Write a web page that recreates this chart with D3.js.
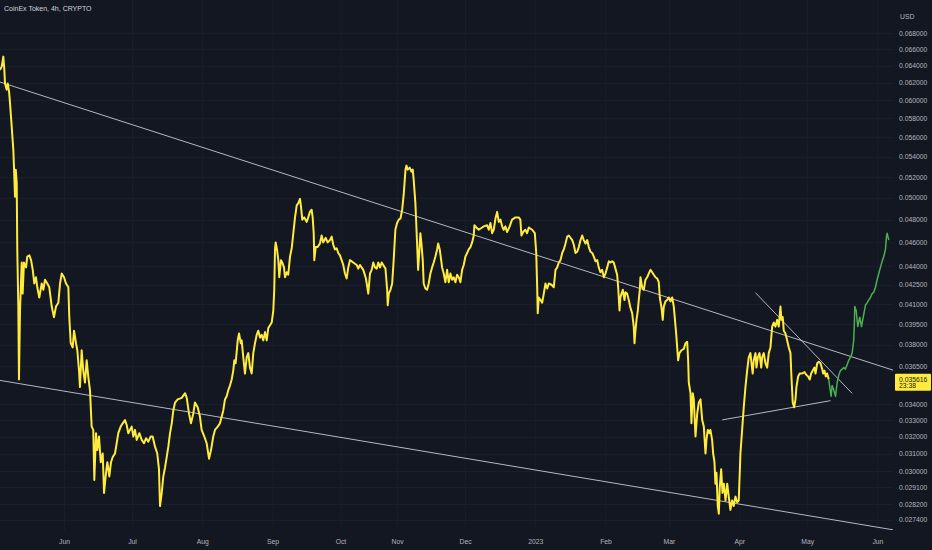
<!DOCTYPE html>
<html><head><meta charset="utf-8">
<script src="https://cdn.jsdelivr.net/npm/d3@7"></script>
<style>html,body{margin:0;padding:0;background:#131722;overflow:hidden}svg{display:block}</style>
</head><body><svg id="c" width="932" height="550"></svg>
<script>
const title = "CoinEx Token, 4h, CRYPTO";
const currency = "USD";
const countdown = "23:38";
// time window (4h bars; no bars between gapStart and gapEnd)
const xStart = "2022-05-03 18", gapStart = "2022-10-20 00", gapEnd = "2022-10-26 00", xEnd = "2023-06-07 21";
const yDomain = [0.02687, 0.07237];
const yTicks = [0.068,0.066,0.064,0.062,0.060,0.058,0.056,0.054,0.052,0.050,0.048,0.046,0.044,0.0425,0.041,0.0395,0.038,0.0365,0.034,0.033,0.032,0.031,0.030,0.0291,0.0282,0.0274];

const priceSeries = [
["2022-05-03 18",0.0635],["2022-05-04 12",0.0639],["2022-05-05 05",0.0651],["2022-05-05 16",0.0635],["2022-05-05 23",0.0619],
["2022-05-06 17",0.0612],["2022-05-07 04",0.0619],["2022-05-07 18",0.0610],["2022-05-08 04",0.0597],["2022-05-08 22",0.0571],
["2022-05-09 15",0.0547],["2022-05-09 22",0.0530],["2022-05-10 09",0.0501],["2022-05-10 17",0.0527],["2022-05-11 03",0.0514],
["2022-05-11 09",0.0454],["2022-05-11 20",0.0408],["2022-05-12 03",0.0356],["2022-05-12 14",0.0405],["2022-05-13 00",0.0426],
["2022-05-13 08",0.0443],["2022-05-13 18",0.0418],["2022-05-14 08",0.0443],["2022-05-15 06",0.0439],["2022-05-15 19",0.0448],
["2022-05-16 17",0.0449],["2022-05-17 11",0.0445],["2022-05-18 05",0.0437],["2022-05-18 21",0.0426],["2022-05-19 15",0.0431],
["2022-05-20 05",0.0423],["2022-05-21 02",0.0415],["2022-05-22 04",0.0426],["2022-05-22 21",0.0421],["2022-05-23 15",0.0429],
["2022-05-24 15",0.0426],["2022-05-25 12",0.0423],["2022-05-26 14",0.0408],["2022-05-27 14",0.0400],["2022-05-28 11",0.0408],
["2022-05-29 12",0.0411],["2022-05-30 06",0.0426],["2022-05-31 00",0.0434],["2022-06-01 00",0.0431],["2022-06-01 21",0.0426],
["2022-06-02 22",0.0423],["2022-06-03 08",0.0400],["2022-06-03 23",0.0381],["2022-06-04 20",0.0378],["2022-06-05 10",0.0390],
["2022-06-06 07",0.0381],["2022-06-06 21",0.0376],["2022-06-07 15",0.0362],["2022-06-08 01",0.0351],["2022-06-08 19",0.0376],
["2022-06-09 12",0.0362],["2022-06-10 06",0.0354],["2022-06-11 00",0.0369],["2022-06-11 17",0.0358],["2022-06-12 11",0.0349],
["2022-06-13 05",0.0326],["2022-06-13 22",0.0324],["2022-06-14 09",0.0295],["2022-06-15 03",0.0322],["2022-06-15 17",0.0312],
["2022-06-16 11",0.0320],["2022-06-17 05",0.0305],["2022-06-18 02",0.0310],["2022-06-18 16",0.0288],["2022-06-19 13",0.0299],
["2022-06-20 03",0.0305],["2022-06-21 00",0.0297],["2022-06-21 18",0.0305],["2022-06-22 12",0.0308],["2022-06-23 12",0.0310],
["2022-06-24 06",0.0316],["2022-06-24 23",0.0322],["2022-06-26 00",0.0326],["2022-06-26 22",0.0328],["2022-06-27 22",0.0330],
["2022-06-28 16",0.0327],["2022-06-29 09",0.0322],["2022-06-30 03",0.0324],["2022-06-30 21",0.0326],["2022-07-01 14",0.0320],
["2022-07-02 08",0.0324],["2022-07-03 02",0.0318],["2022-07-04 06",0.0322],["2022-07-05 07",0.0318],["2022-07-06 07",0.0316],
["2022-07-07 05",0.0319],["2022-07-08 05",0.0317],["2022-07-09 06",0.0320],["2022-07-10 03",0.0320],["2022-07-11 04",0.0314],
["2022-07-12 04",0.0310],["2022-07-12 22",0.0301],["2022-07-13 09",0.0281],["2022-07-14 03",0.0288],["2022-07-14 20",0.0297],
["2022-07-15 14",0.0302],["2022-07-16 08",0.0308],["2022-07-17 01",0.0314],["2022-07-17 19",0.0322],["2022-07-18 13",0.0328],
["2022-07-19 06",0.0336],["2022-07-20 00",0.0341],["2022-07-21 04",0.0343],["2022-07-22 23",0.0344],["2022-07-24 10",0.0347],
["2022-07-25 04",0.0344],["2022-07-26 04",0.0334],["2022-07-27 01",0.0328],["2022-07-28 01",0.0334],["2022-07-28 19",0.0341],
["2022-07-30 00",0.0338],["2022-07-31 00",0.0332],["2022-07-31 18",0.0324],["2022-08-01 22",0.0320],["2022-08-02 23",0.0316],
["2022-08-04 00",0.0307],["2022-08-04 21",0.0312],["2022-08-05 21",0.0320],["2022-08-06 15",0.0324],["2022-08-07 20",0.0326],
["2022-08-08 20",0.0328],["2022-08-09 14",0.0332],["2022-08-10 07",0.0336],["2022-08-11 01",0.0343],["2022-08-11 19",0.0345],
["2022-08-12 12",0.0349],["2022-08-13 06",0.0352],["2022-08-14 00",0.0356],["2022-08-14 17",0.0362],["2022-08-15 04",0.0369],
["2022-08-15 18",0.0367],["2022-08-16 16",0.0383],["2022-08-17 06",0.0388],["2022-08-18 00",0.0381],["2022-08-18 10",0.0383],
["2022-08-19 03",0.0371],["2022-08-19 21",0.0360],["2022-08-20 15",0.0371],["2022-08-21 08",0.0374],["2022-08-22 02",0.0364],
["2022-08-22 20",0.0360],["2022-08-23 13",0.0374],["2022-08-24 07",0.0381],["2022-08-25 01",0.0387],["2022-08-25 18",0.0390],
["2022-08-26 12",0.0385],["2022-08-27 06",0.0387],["2022-08-27 23",0.0383],["2022-08-28 17",0.0389],["2022-08-29 11",0.0383],
["2022-08-30 04",0.0392],["2022-08-30 22",0.0394],["2022-08-31 16",0.0396],["2022-09-01 09",0.0405],["2022-09-01 19",0.0421],
["2022-09-02 03",0.0454],["2022-09-02 10",0.0460],["2022-09-03 00",0.0454],["2022-09-03 14",0.0445],["2022-09-04 00",0.0431],
["2022-09-04 18",0.0445],["2022-09-05 08",0.0443],["2022-09-06 02",0.0439],["2022-09-06 13",0.0431],["2022-09-07 07",0.0435],
["2022-09-07 23",0.0433],["2022-09-08 18",0.0448],["2022-09-09 12",0.0455],["2022-09-10 05",0.0468],["2022-09-10 23",0.0482],
["2022-09-11 17",0.0493],["2022-09-12 10",0.0495],["2022-09-13 04",0.0499],["2022-09-13 14",0.0492],["2022-09-14 04",0.0480],
["2022-09-15 01",0.0482],["2022-09-16 02",0.0478],["2022-09-16 19",0.0482],["2022-09-17 13",0.0487],["2022-09-18 07",0.0489],
["2022-09-18 18",0.0482],["2022-09-19 05",0.0468],["2022-09-19 11",0.0445],["2022-09-20 02",0.0456],["2022-09-20 23",0.0456],
["2022-09-21 23",0.0459],["2022-09-22 17",0.0466],["2022-09-23 10",0.0460],["2022-09-24 12",0.0464],["2022-09-25 09",0.0460],
["2022-09-26 09",0.0462],["2022-09-27 03",0.0465],["2022-09-27 20",0.0458],["2022-09-28 14",0.0454],["2022-09-29 08",0.0455],
["2022-09-30 01",0.0451],["2022-09-30 19",0.0449],["2022-10-01 13",0.0445],["2022-10-02 06",0.0441],["2022-10-03 00",0.0434],
["2022-10-03 18",0.0430],["2022-10-04 11",0.0439],["2022-10-05 05",0.0445],["2022-10-06 16",0.0443],["2022-10-08 04",0.0441],
["2022-10-08 21",0.0438],["2022-10-09 15",0.0441],["2022-10-11 02",0.0437],["2022-10-12 06",0.0430],["2022-10-13 07",0.0418],
["2022-10-14 01",0.0434],["2022-10-14 19",0.0437],["2022-10-15 12",0.0443],["2022-10-16 06",0.0439],["2022-10-17 00",0.0438],
["2022-10-17 17",0.0443],["2022-10-18 11",0.0439],["2022-10-19 05",0.0443],["2022-10-26 21",0.0438],["2022-10-27 15",0.0421],
["2022-10-27 21",0.0409],["2022-10-28 08",0.0418],["2022-10-29 02",0.0421],["2022-10-29 20",0.0426],["2022-10-30 12",0.0445],
["2022-10-31 06",0.0471],["2022-11-01 00",0.0477],["2022-11-01 18",0.0480],["2022-11-02 12",0.0481],["2022-11-03 06",0.0489],
["2022-11-03 23",0.0504],["2022-11-04 17",0.0527],["2022-11-05 03",0.0531],["2022-11-05 17",0.0527],["2022-11-06 14",0.0529],
["2022-11-07 08",0.0525],["2022-11-07 22",0.0527],["2022-11-08 08",0.0517],["2022-11-09 02",0.0495],["2022-11-09 20",0.0459],
["2022-11-10 07",0.0437],["2022-11-10 21",0.0454],["2022-11-11 07",0.0468],["2022-11-11 18",0.0459],["2022-11-12 08",0.0445],
["2022-11-12 18",0.0426],["2022-11-13 12",0.0422],["2022-11-14 06",0.0421],["2022-11-14 23",0.0426],["2022-11-15 17",0.0434],
["2022-11-16 11",0.0439],["2022-11-17 04",0.0443],["2022-11-17 22",0.0448],["2022-11-18 16",0.0454],["2022-11-19 03",0.0459],
["2022-11-19 20",0.0454],["2022-11-20 11",0.0445],["2022-11-20 21",0.0439],["2022-11-21 14",0.0434],["2022-11-22 08",0.0427],
["2022-11-23 02",0.0437],["2022-11-23 19",0.0427],["2022-11-24 13",0.0434],["2022-11-25 07",0.0429],["2022-11-26 00",0.0431],
["2022-11-26 18",0.0427],["2022-11-27 12",0.0433],["2022-11-28 05",0.0431],["2022-11-28 23",0.0427],["2022-11-29 17",0.0437],
["2022-11-30 10",0.0441],["2022-12-01 04",0.0448],["2022-12-01 22",0.0451],["2022-12-02 15",0.0454],["2022-12-03 09",0.0456],
["2022-12-04 03",0.0460],["2022-12-04 20",0.0466],["2022-12-05 03",0.0475],["2022-12-06 00",0.0473],["2022-12-07 01",0.0471],
["2022-12-08 13",0.0473],["2022-12-09 06",0.0474],["2022-12-10 18",0.0475],["2022-12-11 11",0.0471],["2022-12-12 05",0.0477],
["2022-12-12 23",0.0468],["2022-12-13 16",0.0471],["2022-12-14 10",0.0481],["2022-12-15 04",0.0487],["2022-12-15 21",0.0478],
["2022-12-16 15",0.0480],["2022-12-17 09",0.0474],["2022-12-18 01",0.0471],["2022-12-18 19",0.0474],["2022-12-19 13",0.0469],
["2022-12-20 17",0.0474],["2022-12-21 18",0.0480],["2022-12-23 06",0.0482],["2022-12-24 16",0.0482],["2022-12-25 10",0.0480],
["2022-12-25 21",0.0466],["2022-12-26 15",0.0469],["2022-12-27 15",0.0471],["2022-12-28 09",0.0468],["2022-12-29 03",0.0473],
["2022-12-30 15",0.0471],["2022-12-31 19",0.0468],["2023-01-01 10",0.0451],["2023-01-01 20",0.0423],["2023-01-02 02",0.0403],
["2023-01-02 13",0.0415],["2023-01-03 07",0.0413],["2023-01-04 01",0.0411],["2023-01-04 18",0.0418],["2023-01-05 12",0.0426],
["2023-01-06 06",0.0422],["2023-01-06 23",0.0426],["2023-01-08 04",0.0425],["2023-01-09 04",0.0423],["2023-01-09 22",0.0437],
["2023-01-10 16",0.0439],["2023-01-11 09",0.0443],["2023-01-12 03",0.0445],["2023-01-12 21",0.0451],["2023-01-13 14",0.0454],
["2023-01-14 08",0.0459],["2023-01-15 02",0.0465],["2023-01-15 19",0.0466],["2023-01-16 13",0.0464],["2023-01-17 07",0.0462],
["2023-01-18 00",0.0458],["2023-01-18 18",0.0451],["2023-01-19 12",0.0452],["2023-01-20 05",0.0456],["2023-01-20 23",0.0462],
["2023-01-21 17",0.0466],["2023-01-22 10",0.0462],["2023-01-23 04",0.0459],["2023-01-23 22",0.0462],["2023-01-24 15",0.0456],
["2023-01-25 09",0.0452],["2023-01-26 03",0.0451],["2023-01-26 20",0.0448],["2023-01-27 14",0.0444],["2023-01-28 08",0.0445],
["2023-01-29 00",0.0439],["2023-01-29 18",0.0435],["2023-01-30 12",0.0437],["2023-01-31 06",0.0431],["2023-01-31 23",0.0434],
["2023-02-01 18",0.0439],["2023-02-02 11",0.0444],["2023-02-03 05",0.0443],["2023-02-03 23",0.0444],["2023-02-04 15",0.0443],
["2023-02-05 09",0.0438],["2023-02-06 03",0.0433],["2023-02-06 14",0.0423],["2023-02-07 04",0.0405],["2023-02-07 14",0.0415],
["2023-02-08 01",0.0418],["2023-02-08 15",0.0421],["2023-02-09 09",0.0413],["2023-02-09 19",0.0419],["2023-02-10 13",0.0418],
["2023-02-11 06",0.0413],["2023-02-12 00",0.0407],["2023-02-12 18",0.0403],["2023-02-13 11",0.0393],["2023-02-13 19",0.0381],
["2023-02-14 05",0.0390],["2023-02-14 16",0.0398],["2023-02-15 06",0.0405],["2023-02-15 16",0.0413],["2023-02-16 03",0.0421],
["2023-02-16 10",0.0431],["2023-02-17 04",0.0423],["2023-02-17 21",0.0421],["2023-02-18 15",0.0429],["2023-02-19 09",0.0431],
["2023-02-20 02",0.0434],["2023-02-20 20",0.0437],["2023-02-21 14",0.0435],["2023-02-22 07",0.0433],["2023-02-23 01",0.0431],
["2023-02-23 19",0.0430],["2023-02-24 12",0.0427],["2023-02-24 23",0.0415],["2023-02-25 17",0.0407],["2023-02-26 06",0.0398],
["2023-02-26 17",0.0408],["2023-02-27 11",0.0412],["2023-02-28 05",0.0413],["2023-02-28 22",0.0415],["2023-03-01 16",0.0412],
["2023-03-02 10",0.0415],["2023-03-03 03",0.0408],["2023-03-03 13",0.0400],["2023-03-04 04",0.0388],["2023-03-04 15",0.0378],
["2023-03-05 01",0.0369],["2023-03-05 15",0.0374],["2023-03-06 12",0.0376],["2023-03-07 13",0.0377],["2023-03-08 07",0.0381],
["2023-03-09 01",0.0382],["2023-03-09 11",0.0369],["2023-03-09 18",0.0354],["2023-03-10 12",0.0347],["2023-03-10 22",0.0328],
["2023-03-11 12",0.0347],["2023-03-11 23",0.0343],["2023-03-12 17",0.0320],["2023-03-13 11",0.0334],["2023-03-14 04",0.0341],
["2023-03-14 22",0.0343],["2023-03-15 16",0.0330],["2023-03-16 09",0.0326],["2023-03-17 03",0.0310],["2023-03-17 13",0.0318],
["2023-03-18 03",0.0324],["2023-03-18 21",0.0322],["2023-03-19 07",0.0324],["2023-03-20 01",0.0318],["2023-03-20 12",0.0310],
["2023-03-21 02",0.0305],["2023-03-21 12",0.0293],["2023-03-21 23",0.0299],["2023-03-22 13",0.0281],["2023-03-23 00",0.0277],
["2023-03-23 10",0.0291],["2023-03-24 01",0.0301],["2023-03-24 15",0.0288],["2023-03-25 05",0.0293],["2023-03-25 23",0.0284],
["2023-03-26 17",0.0293],["2023-03-27 09",0.0286],["2023-03-28 03",0.0279],["2023-03-28 21",0.0284],["2023-03-29 14",0.0281],
["2023-03-30 08",0.0286],["2023-03-31 02",0.0283],["2023-03-31 19",0.0284],["2023-04-01 13",0.0310],["2023-04-02 07",0.0324],
["2023-04-03 00",0.0338],["2023-04-03 18",0.0351],["2023-04-04 12",0.0362],["2023-04-05 05",0.0371],["2023-04-05 23",0.0374],
["2023-04-06 10",0.0367],["2023-04-06 23",0.0360],["2023-04-07 10",0.0369],["2023-04-08 04",0.0374],["2023-04-08 15",0.0364],
["2023-04-09 05",0.0371],["2023-04-09 23",0.0374],["2023-04-10 17",0.0364],["2023-04-11 03",0.0371],["2023-04-11 20",0.0374],
["2023-04-12 14",0.0367],["2023-04-13 08",0.0364],["2023-04-14 01",0.0374],["2023-04-14 19",0.0378],["2023-04-15 13",0.0393],
["2023-04-16 06",0.0396],["2023-04-17 00",0.0393],["2023-04-17 18",0.0398],["2023-04-18 11",0.0393],["2023-04-19 05",0.0408],
["2023-04-19 15",0.0398],["2023-04-20 05",0.0400],["2023-04-20 16",0.0390],["2023-04-21 10",0.0388],["2023-04-22 04",0.0383],
["2023-04-22 21",0.0378],["2023-04-23 15",0.0374],["2023-04-24 01",0.0358],["2023-04-24 15",0.0341],["2023-04-25 06",0.0338],
["2023-04-25 20",0.0343],["2023-04-26 06",0.0351],["2023-04-27 00",0.0358],["2023-04-27 17",0.0360],["2023-04-28 19",0.0360],
["2023-04-29 19",0.0361],["2023-04-30 16",0.0359],["2023-05-01 10",0.0358],["2023-05-02 03",0.0356],["2023-05-02 18",0.0360],
["2023-05-03 11",0.0362],["2023-05-04 05",0.0364],["2023-05-04 16",0.0360],["2023-05-05 10",0.0367],["2023-05-06 03",0.0368],
["2023-05-06 21",0.0367],["2023-05-07 15",0.0363],["2023-05-08 01",0.0360],["2023-05-08 15",0.0362],["2023-05-09 05",0.0358],
["2023-05-09 19",0.0360],["2023-05-10 12",0.035616]
];

const projectionSeries = [
["2023-05-10 12",0.035616],["2023-05-10 23",0.0351],["2023-05-11 14",0.0345],["2023-05-12 00",0.0352],["2023-05-12 18",0.0349],
["2023-05-13 12",0.0345],["2023-05-14 06",0.0354],["2023-05-14 23",0.0359],["2023-05-15 17",0.0362],["2023-05-16 11",0.0363],
["2023-05-17 03",0.0364],["2023-05-17 21",0.0363],["2023-05-18 15",0.0366],["2023-05-19 08",0.0369],["2023-05-20 02",0.0371],
["2023-05-20 20",0.0374],["2023-05-21 13",0.0383],["2023-05-21 21",0.0398],["2023-05-22 00",0.0408],["2023-05-22 15",0.0405],
["2023-05-23 08",0.0393],["2023-05-24 05",0.0400],["2023-05-24 23",0.0393],["2023-05-25 23",0.0402],["2023-05-26 17",0.0409],
["2023-05-27 12",0.0411],["2023-05-28 04",0.0413],["2023-05-28 22",0.0415],["2023-05-29 16",0.0418],["2023-05-30 09",0.0419],
["2023-05-31 03",0.0423],["2023-05-31 21",0.0429],["2023-06-01 14",0.0434],["2023-06-02 08",0.0439],["2023-06-03 02",0.0444],
["2023-06-03 19",0.0448],["2023-06-04 13",0.0454],["2023-06-05 00",0.0465],["2023-06-05 07",0.0468],["2023-06-06 00",0.0462]
];

const trendLines = [
[["2022-05-03 18",0.06208],["2023-06-07 21",0.03623]],
[["2022-05-03 18",0.03554],["2023-06-07 21",0.02688]],
[["2023-04-08 04",0.04187],["2023-05-20 20",0.03469]],
[["2023-03-24 12",0.03301],["2023-05-11 07",0.03422]]
];

// ---- layout ----
const W = 932, H = 550, PW = 893, PH = 530;
const bg = "#131722", txt = "#b2b5be", grid = "#1a1e2a";
const font = "'Liberation Sans', Arial, sans-serif";
const parse = d3.timeParse("%Y-%m-%d %H");
const svg = d3.select("#c");
svg.append("rect").attr("width", W).attr("height", H).attr("fill", bg);

const S = parse(xStart), G1 = parse(gapStart), G2 = parse(gapEnd), E = parse(xEnd);
const before = (G1 - S), after = (E - G2);
const xg = PW * before / (before + after);
const x = d3.scaleTime().domain([S, G1, G2, E]).range([0, xg, xg, PW]);
const y = d3.scaleLog().domain(yDomain).range([PH, 0]);

const months = d3.timeMonth.range(d3.timeMonth.ceil(S), E);
// grid
const g = svg.append("g");
g.selectAll("line.v").data(months).join("line")
  .attr("x1", d => x(d) + 0.5).attr("x2", d => x(d) + 0.5).attr("y1", 0).attr("y2", PH)
  .attr("stroke", grid).attr("stroke-width", 1);
g.selectAll("line.h").data(yTicks).join("line")
  .attr("x1", 0).attr("x2", PW).attr("y1", d => Math.round(y(d)) + 0.5).attr("y2", d => Math.round(y(d)) + 0.5)
  .attr("stroke", grid).attr("stroke-width", 1);

svg.append("clipPath").attr("id", "clip").append("rect").attr("width", PW).attr("height", PH);
const plot = svg.append("g").attr("clip-path", "url(#clip)");

// trend lines
plot.selectAll("line.t").data(trendLines).join("line")
  .attr("x1", d => x(parse(d[0][0]))).attr("y1", d => y(d[0][1]))
  .attr("x2", d => x(parse(d[1][0]))).attr("y2", d => y(d[1][1]))
  .attr("stroke", "#d1d4dc").attr("stroke-opacity", 0.85).attr("stroke-width", 1);

const line = d3.line().x(d => x(parse(d[0]))).y(d => y(d[1]));
plot.append("path").datum(projectionSeries).attr("d", line)
  .attr("fill", "none").attr("stroke", "#4caf50").attr("stroke-width", 1.5).attr("stroke-linejoin", "round");
plot.append("path").datum(priceSeries).attr("d", line)
  .attr("fill", "none").attr("stroke", "#ffeb3b").attr("stroke-width", 2).attr("stroke-linejoin", "round");

// y axis
const yAxis = d3.axisRight(y).tickValues(yTicks).tickFormat(d3.format(".6f")).tickSize(0).tickPadding(0);
const ya = svg.append("g").attr("transform", "translate(899,0)").call(yAxis);
ya.select(".domain").remove();
ya.selectAll("text").attr("fill", txt).style("font-family", font).style("font-size", "6.8px");

// x axis
const fmt = d => d.getMonth() === 0 ? d3.timeFormat("%Y")(d) : d3.timeFormat("%b")(d);
const xAxis = d3.axisBottom(x).tickValues(months).tickFormat(fmt).tickSize(0).tickPadding(3);
const xa = svg.append("g").attr("transform", "translate(0,536)").call(xAxis);
xa.select(".domain").remove();
xa.selectAll("text").attr("fill", txt).style("font-family", font).style("font-size", "6.8px");

// title & currency
svg.append("text").attr("x", 4).attr("y", 10.5).text(title)
  .attr("fill", "#d1d4dc").style("font-family", font).style("font-size", "7px");
svg.append("text").attr("x", 900).attr("y", 18.5).text(currency)
  .attr("fill", txt).style("font-family", font).style("font-size", "6.8px");

// last price label
const last = priceSeries[priceSeries.length - 1];
const ly = y(last[1]);
svg.append("rect").attr("x", 895).attr("y", ly - 5.5).attr("width", 36).attr("height", 17)
  .attr("fill", "#ffeb3b").attr("rx", 1);
svg.append("text").attr("x", 899).attr("y", ly + 2.3).text(d3.format(".6f")(last[1]))
  .attr("fill", "#131722").style("font-family", font).style("font-size", "6.8px");
svg.append("text").attr("x", 899).attr("y", ly + 9.2).text(countdown)
  .attr("fill", "#131722").style("font-family", font).style("font-size", "6.8px");
</script>
</body></html>
